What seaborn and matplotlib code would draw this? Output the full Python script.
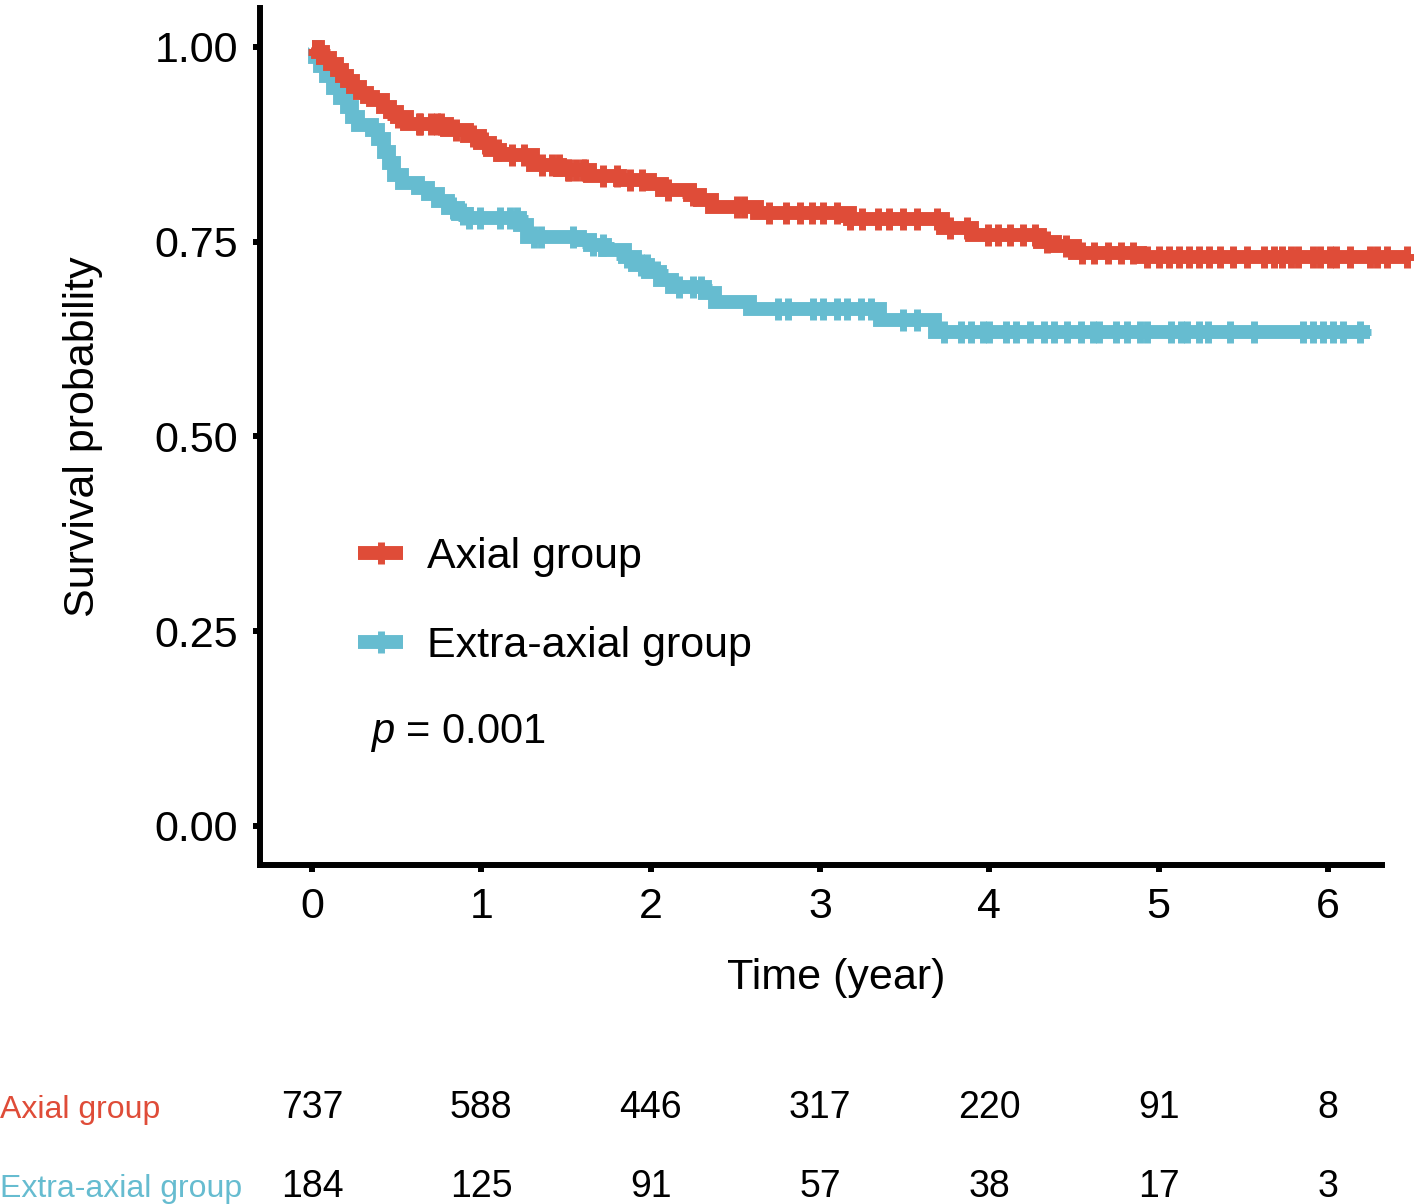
import numpy as np
import pandas as pd
import matplotlib
matplotlib.use("Agg")
import matplotlib.pyplot as plt
import matplotlib.transforms as mtransforms
from matplotlib.lines import Line2D
import seaborn as sns

# Kaplan-Meier steps
axial_time = [0, 0.035, 0.065, 0.106, 0.148, 0.177, 0.207, 0.242, 0.283, 0.325, 0.360,
              0.419, 0.461, 0.502, 0.561, 0.797, 0.915, 0.992, 1.051, 1.110, 1.305,
              1.465, 1.642, 1.819, 1.996, 2.067, 2.232, 2.291, 2.362, 2.628, 3.177,
              3.726, 3.898, 4.299, 4.388, 4.506, 4.890, 6.466]
axial_surv = [1.0, 0.994, 0.986, 0.978, 0.970, 0.963, 0.956, 0.949, 0.941, 0.936, 0.932,
              0.923, 0.917, 0.910, 0.901, 0.894, 0.886, 0.877, 0.868, 0.861, 0.849,
              0.842, 0.834, 0.829, 0.824, 0.816, 0.810, 0.804, 0.795, 0.787, 0.779,
              0.768, 0.758, 0.750, 0.744, 0.736, 0.730, 0.730]

extra_time = [0, 0.018, 0.047, 0.083, 0.124, 0.165, 0.207, 0.236, 0.272, 0.354, 0.390,
              0.425, 0.455, 0.484, 0.532, 0.626, 0.685, 0.744, 0.803, 0.862, 0.915,
              1.228, 1.270, 1.583, 1.642, 1.730, 1.849, 1.908, 1.984, 2.055, 2.126,
              2.321, 2.380, 2.587, 3.354, 3.679, 6.25]
extra_surv = [1.0, 0.987, 0.976, 0.963, 0.947, 0.934, 0.923, 0.910, 0.900, 0.894, 0.882,
              0.865, 0.851, 0.836, 0.825, 0.819, 0.811, 0.802, 0.793, 0.786, 0.781,
              0.772, 0.756, 0.752, 0.746, 0.739, 0.730, 0.720, 0.711, 0.701, 0.692,
              0.684, 0.673, 0.664, 0.650, 0.634, 0.634]

# censoring times
axial_cens = [0.04, 0.51, 0.63, 0.64, 0.70, 0.74, 0.76, 0.85, 0.95, 1.02, 1.10, 1.18,
              1.25, 1.36, 1.42, 1.46, 1.51, 1.52, 1.56, 1.60, 1.61, 1.72, 1.80, 1.88,
              1.95, 2.10, 2.25, 2.51, 2.55, 2.70, 2.80, 2.88, 2.95, 3.02, 3.10, 3.18,
              3.25, 3.34, 3.41, 3.49, 3.57, 3.69, 3.77, 3.87, 3.99, 4.05, 4.12, 4.20,
              4.27, 4.34, 4.45, 4.55, 4.62, 4.70, 4.78, 4.85, 4.93, 5.00, 5.06, 5.12,
              5.18, 5.24, 5.30, 5.36, 5.44, 5.52, 5.62, 5.68, 5.73, 5.78, 5.82, 5.91,
              5.95, 6.01, 6.05, 6.13, 6.25, 6.29, 6.35, 6.466]
extra_cens = [0.83, 0.89, 0.93, 0.99, 1.11, 1.17, 1.21, 1.31, 1.35, 1.54, 1.66, 1.72,
              1.86, 1.94, 1.98, 2.04, 2.17, 2.25, 2.30, 2.75, 2.81, 2.96, 3.02, 3.10,
              3.16, 3.24, 3.30, 3.49, 3.57, 3.73, 3.83, 3.89, 3.96, 4.00, 4.10, 4.16,
              4.24, 4.32, 4.38, 4.46, 4.54, 4.61, 4.65, 4.75, 4.81, 4.89, 4.93, 5.07,
              5.13, 5.17, 5.24, 5.29, 5.42, 5.56, 5.85, 5.91, 5.97, 6.03, 6.09, 6.19]

groups = ["Axial group", "Extra-axial group"]
colors = ["#DF4C38", "#66BCD0"]

# number at risk
risk_times = [0, 1, 2, 3, 4, 5, 6]
axial_risk = [737, 588, 446, 317, 220, 91, 8]
extra_risk = [184, 125, 91, 57, 38, 17, 3]

sns.set_style("ticks", {"text.color": "black", "axes.labelcolor": "black",
                        "xtick.color": "black", "ytick.color": "black",
                        "axes.edgecolor": "black"})
plt.rcParams["font.family"] = ["Liberation Sans", "DejaVu Sans"]
plt.rcParams["mathtext.fontset"] = "custom"
plt.rcParams["mathtext.it"] = "Liberation Sans:italic"
plt.rcParams["mathtext.rm"] = "Liberation Sans"

df = pd.concat([
    pd.DataFrame({"time": axial_time, "surv": axial_surv, "group": groups[0]}),
    pd.DataFrame({"time": extra_time, "surv": extra_surv, "group": groups[1]}),
])


def step_value(times, surv, t):
    idx = np.searchsorted(times, t, side="right") - 1
    return np.asarray(surv)[idx]


fig = plt.figure(figsize=(14.25, 12.04), dpi=100)
ax = fig.add_axes([260 / 1425, 1 - 865 / 1204, (1412.7 - 260) / 1425, (865 - 8) / 1204])

lw = 10
order = [1, 0]  # blue below, red on top
for i in order:
    sub = df[df["group"] == groups[i]]
    sns.lineplot(data=sub, x="time", y="surv", color=colors[i], lw=lw,
                 estimator=None, drawstyle="steps-post", ax=ax, legend=False,
                 solid_joinstyle="miter", solid_capstyle="butt")
    ct = axial_cens if i == 0 else extra_cens
    tt = axial_time if i == 0 else extra_time
    ss = axial_surv if i == 0 else extra_surv
    sns.scatterplot(x=ct, y=step_value(tt, ss, ct), marker="+", s=16 ** 2,
                    linewidth=5, color=colors[i], ax=ax, legend=False, zorder=3)

ax.set_xlim(-0.307, 6.5)
ax.set_ylim(-0.0501, 1.050)
ax.set_xticks(risk_times)
ax.set_yticks([0, 0.25, 0.5, 0.75, 1.0])
ax.set_yticklabels(["0.00", "0.25", "0.50", "0.75", "1.00"])
ax.spines["bottom"].set_bounds(-0.307, 6.32)
for s in ["left", "bottom"]:
    ax.spines[s].set_linewidth(4.3)
sns.despine(ax=ax)
ax.tick_params(axis="both", length=5, width=4.3, labelsize=31, pad=11, color="black")
ax.set_xlabel("Time (year)", fontsize=31, labelpad=22)
ax.set_ylabel("Survival probability", fontsize=31, labelpad=37)

handles = [Line2D([0], [0], color=colors[i], lw=lw, marker="+", ms=16, mew=5,
                  solid_capstyle="butt") for i in range(2)]
ax.legend(handles, groups, loc="upper left", bbox_to_anchor=(0.085, 0.383),
          frameon=False, fontsize=31, handlelength=1.05, handletextpad=0.56,
          labelspacing=1.14, borderpad=0, borderaxespad=0)

ax.text(0.0954, 0.1424, r"$p$ = 0.001", transform=ax.transAxes, fontsize=30,
        ha="left", va="baseline")

# risk table
trans = mtransforms.blended_transform_factory(ax.transData, fig.transFigure)
row_y = [1 - 1118 / 1204, 1 - 1197 / 1204]
risks = [axial_risk, extra_risk]
for r in range(2):
    fig.text(0.0, row_y[r], groups[r], color=colors[r], fontsize=23,
             ha="left", va="baseline")
    for t, n in zip(risk_times, risks[r]):
        ax.text(t, row_y[r], str(n), transform=trans, fontsize=27,
                ha="center", va="baseline", clip_on=False)

fig.savefig("out.png", dpi=100)
